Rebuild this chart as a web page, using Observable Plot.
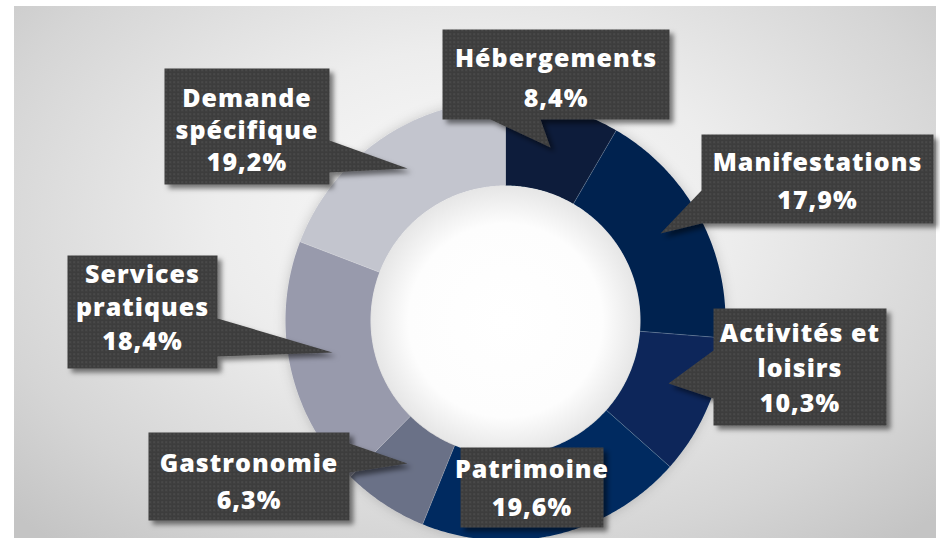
<!DOCTYPE html>
<html><head><meta charset="utf-8">
<script src="https://cdn.jsdelivr.net/npm/d3@7"></script>
<script src="https://cdn.jsdelivr.net/npm/@observablehq/plot@0.6"></script>
<style>
html,body{margin:0;padding:0;background:#fff;width:940px;height:538px;overflow:hidden;}
#panel{position:absolute;left:14px;top:6px;width:922px;height:532px;
  background:radial-gradient(ellipse 70% 80% at 50% 40%, #fbfbfb 0%, #ededed 40%, #d5d5d5 78%, #c4c4c4 100%);}
#chart{position:absolute;left:0;top:0;}
</style></head><body><div id="panel"></div><div id="chart"></div>
<script>
// ---- data ----
const categories = ["Hébergements","Manifestations","Activités et loisirs","Patrimoine","Gastronomie","Services pratiques","Demande spécifique"];
const shares = [8.4, 17.9, 10.3, 19.6, 6.3, 18.4, 19.2];

// ---- styles ----
const colors = ["#081a3a","#052250","#08285a","#042c60","#6b7187","#989aac","#c3c5ce"];

// ---- layout ----
const ring = {cx: 505, cy: 320, outer: 220, inner: 135};
const callouts = [
  {box:[442,29,669,119], side:"bottom", base:[490,540], tip:[550,147], k:0, y0:58,  dy:40},
  {box:[701,134,933,223], side:"left",  base:[190,223], tip:[660,233], k:0, y0:162, dy:38},
  {box:[713,308,886,425], side:"left",  base:[350,398], tip:[668,383], k:2, y0:333, dy:35},
  {box:[460,447,603,527], side:"none",  base:null,      tip:null,      k:0, y0:469, dy:38},
  {box:[148,432,349,520], side:"right", base:[443,472], tip:[407,463], k:0, y0:463, dy:37},
  {box:[67,255,217,368],  side:"right", base:[318,356], tip:[332,352], k:1, y0:274, dy:33.5},
  {box:[164,68,329,184],  side:"right", base:[140,172], tip:[407,168], k:1, y0:98,  dy:32}
];

// ---- build geometry ----
const arcs = d3.pie().sort(null).value(d => d)(shares);
const pt = (a, r) => [ring.cx + r * Math.sin(a), ring.cy - r * Math.cos(a)];
const slicePts = [];
arcs.forEach((a, i) => {
  const n = Math.max(8, Math.ceil((a.endAngle - a.startAngle) / 0.01));
  for (let j = 0; j <= n; j++) {
    const t = a.startAngle + (a.endAngle - a.startAngle) * j / n;
    const [x, y] = pt(t, ring.outer); slicePts.push({name: categories[i], x, y});
  }
  for (let j = n; j >= 0; j--) {
    const t = a.startAngle + (a.endAngle - a.startAngle) * j / n;
    const [x, y] = pt(t, ring.inner); slicePts.push({name: categories[i], x, y});
  }
});
const seps = arcs.map(a => {
  const [x1, y1] = pt(a.startAngle, ring.inner), [x2, y2] = pt(a.startAngle, ring.outer);
  return {x1, y1, x2, y2};
});

const calloutPts = [];
const textLines = [];
callouts.forEach((c, i) => {
  const [x0, y0, x1, y1] = c.box;
  let p;
  if (c.side === "bottom") p = [[x0,y0],[x1,y0],[x1,y1],[c.base[1],y1],c.tip,[c.base[0],y1],[x0,y1]];
  else if (c.side === "left") p = [[x0,y0],[x1,y0],[x1,y1],[x0,y1],[x0,c.base[1]],c.tip,[x0,c.base[0]]];
  else if (c.side === "right") p = [[x0,y0],[x1,y0],[x1,c.base[0]],c.tip,[x1,c.base[1]],[x1,y1],[x0,y1]];
  else p = [[x0,y0],[x1,y0],[x1,y1],[x0,y1]];
  p.forEach(([x, y]) => calloutPts.push({id: i, x, y}));
  const words = categories[i].split(" ");
  const lines = c.k ? [words.slice(0, c.k).join(" "), words.slice(c.k).join(" ")] : [categories[i]];
  lines.push(shares[i].toFixed(1).replace(".", ",") + "%");
  lines.forEach((t, j) => textLines.push({text: t, x: (x0 + x1) / 2, y: c.y0 + j * c.dy}));
});

const chart = Plot.plot({
  width: 940, height: 538, margin: 0,
  x: {domain: [0, 940], range: [0, 940], axis: null},
  y: {domain: [0, 538], range: [0, 538], axis: null},
  color: {domain: categories, range: colors},
  style: {background: "transparent", overflow: "visible"},
  marks: [
    Plot.line(slicePts, {x: "x", y: "y", z: "name", fill: "name", stroke: "none", curve: "linear-closed"}),
    Plot.link(seps, {x1: "x1", y1: "y1", x2: "x2", y2: "y2", stroke: "#ffffff", strokeOpacity: 0.3, strokeWidth: 0.7}),
    Plot.dot([ring], {x: "cx", y: "cy", r: ring.inner - 0.5, fill: "url(#holeGrad)", stroke: "none"}),
    Plot.line(calloutPts, {x: "x", y: "y", z: "id", fill: "url(#dots)", stroke: "none", curve: "linear-closed"}),
    Plot.text(textLines, {x: "x", y: "y", text: "text", fill: "#ffffff", fontSize: 25, fontWeight: 800, fontFamily: "Open Sans"})
  ]
});

const svg = d3.select(chart);
const defs = svg.insert("defs", ":first-child");
const pat = defs.append("pattern").attr("id", "dots").attr("patternUnits", "userSpaceOnUse").attr("width", 4).attr("height", 4);
pat.append("rect").attr("width", 4).attr("height", 4).attr("fill", "#3e3e3e");
pat.append("rect").attr("x", 1).attr("y", 1).attr("width", 1.3).attr("height", 1.3).attr("fill", "#595959");
const hg = defs.append("radialGradient").attr("id", "holeGrad");
hg.append("stop").attr("offset", "0%").attr("stop-color", "#ffffff");
hg.append("stop").attr("offset", "72%").attr("stop-color", "#fdfdfd");
hg.append("stop").attr("offset", "100%").attr("stop-color", "#e6e6e6");
const f1 = defs.append("filter").attr("id", "boxShadow").attr("x", "-20%").attr("y", "-20%").attr("width", "150%").attr("height", "150%");
f1.append("feDropShadow").attr("dx", 4).attr("dy", 4).attr("stdDeviation", 2.5).attr("flood-color", "#000").attr("flood-opacity", 0.5);
const f2 = defs.append("filter").attr("id", "ringShadow").attr("x", "-20%").attr("y", "-20%").attr("width", "140%").attr("height", "140%");
f2.append("feDropShadow").attr("dx", 0).attr("dy", 0).attr("stdDeviation", 6).attr("flood-color", "#000").attr("flood-opacity", 0.18);

const lineGroups = svg.selectAll(":scope > g[aria-label='line']").nodes();
if (lineGroups[0]) d3.select(lineGroups[0]).attr("filter", "url(#ringShadow)");
if (lineGroups[1]) d3.select(lineGroups[1]).attr("filter", "url(#boxShadow)");
svg.selectAll(":scope > g[aria-label='text'] text").style("letter-spacing", "1px");

document.getElementById("chart").appendChild(chart);
</script></body></html>
